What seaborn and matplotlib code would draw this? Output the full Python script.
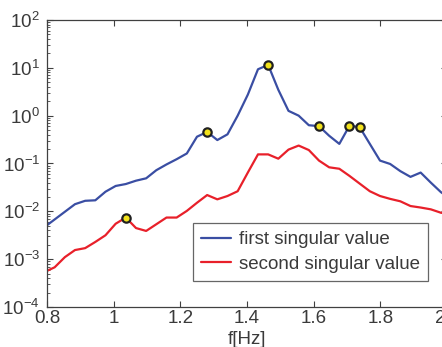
import numpy as np
import pandas as pd
import matplotlib
matplotlib.use("Agg")
import matplotlib.pyplot as plt
import matplotlib.transforms as mtransforms
import seaborn as sns

# frequency grid (Hz)
freq = [0.7925, 0.823, 0.8535, 0.884, 0.9145, 0.945, 0.9755, 1.006, 1.0365, 1.067,
        1.0975, 1.128, 1.1585, 1.189, 1.2195, 1.25, 1.2805, 1.311, 1.3415, 1.372,
        1.4025, 1.433, 1.4635, 1.494, 1.5245, 1.555, 1.5855, 1.616, 1.6465, 1.677,
        1.7075, 1.738, 1.7685, 1.799, 1.8295, 1.86, 1.8905, 1.921, 1.9515, 1.982,
        2.0125]

# first singular value
first_sv = [0.00468, 0.00676, 0.00977, 0.0141, 0.0166, 0.0170, 0.0257, 0.0339, 0.0372, 0.0437,
            0.0490, 0.0724, 0.0955, 0.123, 0.162, 0.363, 0.457, 0.309, 0.407, 1.0,
            2.75, 9.33, 11.5, 3.47, 1.26, 1.0, 0.631, 0.603, 0.380, 0.257,
            0.617, 0.575, 0.257, 0.115, 0.0977, 0.0692, 0.0525, 0.0646, 0.0398, 0.0251,
            0.0178]

# second singular value
second_sv = [0.000537, 0.000676, 0.00110, 0.00155, 0.00170, 0.00229, 0.00316, 0.00550, 0.00741, 0.00447,
             0.00389, 0.00537, 0.00741, 0.00741, 0.0102, 0.0151, 0.0219, 0.0178, 0.0209, 0.0263,
             0.0646, 0.155, 0.155, 0.126, 0.195, 0.237, 0.191, 0.115, 0.0832, 0.0776,
             0.0550, 0.0380, 0.0263, 0.0209, 0.0182, 0.0162, 0.0129, 0.0120, 0.0110, 0.00933,
             0.00871]

# picked peaks (indices into freq)
first_peaks = [16, 22, 27, 30, 31]
second_peaks = [8]

xticks = [0.8, 1.0, 1.2, 1.4, 1.6, 1.8, 2.0]
xtick_labels = ["0.8", "1", "1.2", "1.4", "1.6", "1.8", "2"]

sns.set_style("ticks")
plt.rcParams['font.family'] = ['Liberation Sans', 'DejaVu Sans']
plt.rcParams['mathtext.fontset'] = 'custom'
plt.rcParams['mathtext.rm'] = 'Liberation Sans'
plt.rcParams['mathtext.it'] = 'Liberation Sans:italic'
plt.rcParams['mathtext.bf'] = 'Liberation Sans:bold'

txt_col = "#3a3a3a"
blue = "#3a4ea3"
red = "#e8202a"
fs = 13.5

df = pd.DataFrame({"f": freq, "first": first_sv, "second": second_sv})
peaks = pd.concat([
    pd.DataFrame({"f": [freq[i] for i in first_peaks], "v": [first_sv[i] for i in first_peaks]}),
    pd.DataFrame({"f": [freq[i] for i in second_peaks], "v": [second_sv[i] for i in second_peaks]}),
])

fig = plt.figure(figsize=(4.42, 3.47), dpi=100)
ax = fig.add_axes([0.1063, 0.1153, 0.905, 0.8271])

sns.lineplot(data=df, x="f", y="first", ax=ax, color=blue, lw=1.6,
             sort=False, label="first singular value")
sns.lineplot(data=df, x="f", y="second", ax=ax, color=red, lw=1.6,
             sort=False, label="second singular value")
sns.scatterplot(data=peaks, x="f", y="v", ax=ax, s=36, color="#f2e21c",
                edgecolor="#202020", linewidth=1.6, zorder=5)

ax.set_yscale("log")
ax.set_xlim(0.8, 2.0)
ax.set_ylim(1e-4, 1e2)
ax.set_xticks(xticks)
ax.set_xticklabels(xtick_labels)
ax.set_xlabel("f[Hz]", fontsize=fs, color=txt_col, labelpad=3)
ax.set_ylabel("")

for s in ax.spines.values():
    s.set_color("#404040")
    s.set_linewidth(0.9)
ax.tick_params(which="both", direction="in", top=True, right=True,
               colors="#404040", labelcolor=txt_col, labelsize=fs)
ax.tick_params(which="major", length=4)
ax.tick_params(which="minor", length=2)
ax.tick_params(axis="x", pad=2)
ax.tick_params(axis="y", pad=5)

# last x label sits past the figure edge, nudge it in like the original
last = ax.get_xticklabels()[-1]
last.set_transform(last.get_transform() +
                   mtransforms.ScaledTranslation(-7 / 100, 0, fig.dpi_scale_trans))

leg = ax.legend(loc="lower left", bbox_to_anchor=(0.365, 0.09), fontsize=fs,
                frameon=True, fancybox=False, handlelength=1.6, handletextpad=0.4,
                borderpad=0.45, labelspacing=0.4, borderaxespad=0)
leg.get_frame().set_edgecolor("#404040")
leg.get_frame().set_linewidth(0.9)
for t in leg.get_texts():
    t.set_color(txt_col)

fig.savefig("out.png", dpi=100)
